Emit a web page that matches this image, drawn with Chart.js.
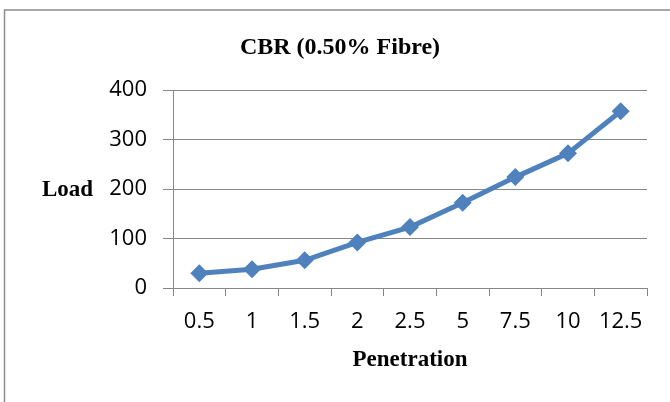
<!DOCTYPE html>
<html>
<head>
<meta charset="utf-8">
<title>CBR (0.50% Fibre)</title>
<script src="https://cdn.jsdelivr.net/npm/chart.js@4/dist/chart.umd.min.js"></script>
<style>
    html, body { margin: 0; padding: 0; background: #ffffff; }
    #chartBox { position: relative; width: 670px; height: 402px; }
</style>
</head>
<body>
<div id="chartBox">
    <canvas id="cbrChart" width="670" height="402"></canvas>
</div>
<script>
// 數據
const penetration = ['0.5', '1', '1.5', '2', '2.5', '5', '7.5', '10', '12.5'];
const load = [30, 38, 56, 92, 123, 172, 224, 272, 357];
const loadTicks = [0, 100, 200, 300, 400];

const serifBold = '"Liberation Serif", "DejaVu Serif", serif';
const tickFont = '"Open Sans", "Liberation Sans", sans-serif';
const gridGray = '#868686';

// 外框、標題與 "Load" 標籤
const framePlugin = {
    id: 'frameAndLabels',
    afterDraw(chart) {
        const ctx = chart.ctx;
        ctx.save();
        ctx.strokeStyle = '#8c8c8c';
        ctx.lineWidth = 1.5;
        ctx.beginPath();
        ctx.moveTo(4.5, chart.height);
        ctx.lineTo(4.5, 10);
        ctx.lineTo(chart.width, 10);
        ctx.stroke();

        ctx.fillStyle = '#000000';
        ctx.textBaseline = 'middle';
        ctx.font = 'bold 24px ' + serifBold;
        ctx.textAlign = 'center';
        ctx.fillText('CBR (0.50% Fibre)', 340, 48);
        ctx.font = 'bold 23px ' + serifBold;
        ctx.textAlign = 'left';
        ctx.fillText('Load', 42, 190);
        ctx.restore();
    }
};

new Chart(document.getElementById('cbrChart'), {
    type: 'line',
    data: {
        labels: penetration,
        datasets: [{
            label: 'Load',
            data: load,
            borderColor: '#4f81bd',
            backgroundColor: '#4f81bd',
            borderWidth: 5,
            pointStyle: 'rectRot',
            pointRadius: 9,
            pointHoverRadius: 9,
            pointBorderWidth: 0,
            tension: 0
        }]
    },
    options: {
        responsive: false,
        animation: false,
        layout: {
            padding: { left: 0, top: 90, right: 23, bottom: 0 }
        },
        scales: {
            x: {
                offset: true,
                grid: {
                    offset: true,
                    drawOnChartArea: false,
                    drawTicks: true,
                    tickLength: 8,
                    color: gridGray
                },
                border: { display: true, color: gridGray, width: 1 },
                ticks: {
                    color: '#000000',
                    font: { family: tickFont, size: 22 },
                    padding: 13,
                    autoSkip: false,
                    maxRotation: 0
                },
                title: {
                    display: true,
                    text: 'Penetration',
                    color: '#000000',
                    font: { family: serifBold, size: 23, weight: 'bold' },
                    padding: { top: 0, bottom: 28 }
                },
                afterFit(scale) { scale.height = 114; }
            },
            y: {
                min: 0,
                max: 400,
                afterBuildTicks(scale) {
                    scale.ticks = loadTicks.map(v => ({ value: v }));
                },
                grid: {
                    color: gridGray,
                    tickLength: 10
                },
                border: { display: true, color: gridGray, width: 1 },
                ticks: {
                    color: '#000000',
                    font: { family: tickFont, size: 22 },
                    padding: 16
                },
                afterFit(scale) { scale.width = 173; }
            }
        },
        plugins: {
            legend: { display: false },
            tooltip: { enabled: false }
        }
    },
    plugins: [framePlugin]
});
</script>
</body>
</html>
